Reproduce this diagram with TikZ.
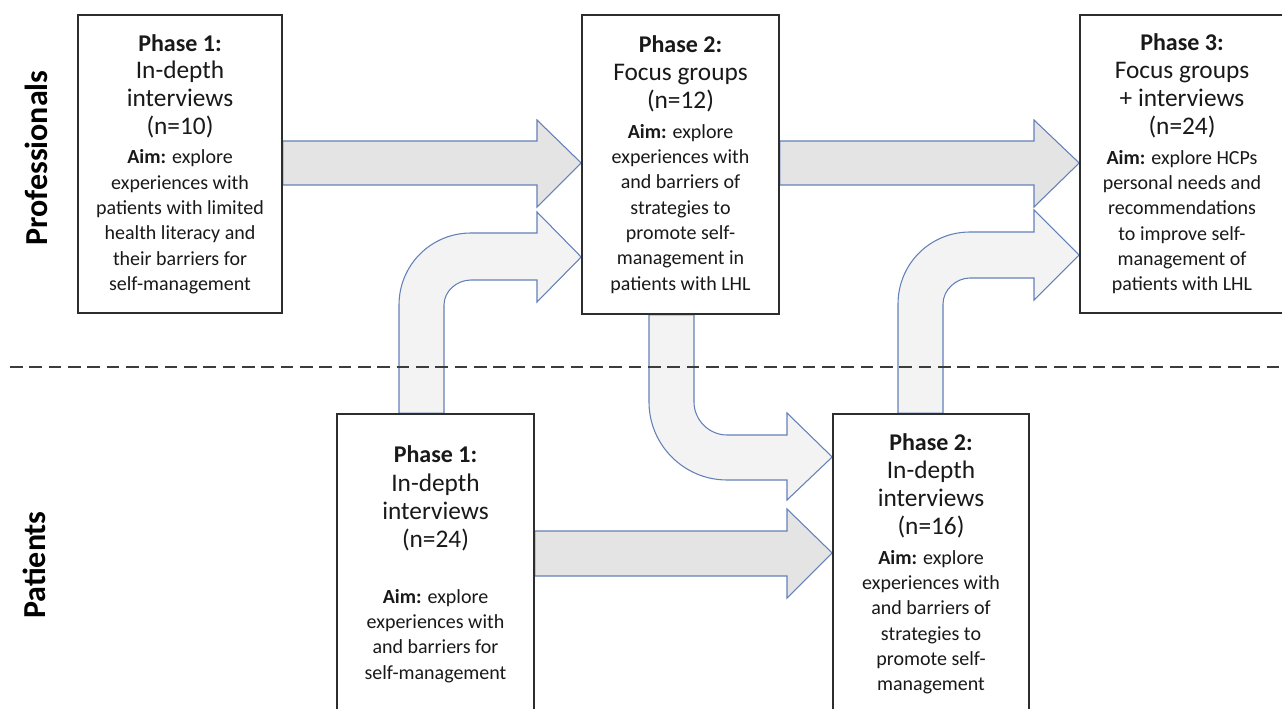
\documentclass[tikz,border=0pt]{standalone}
\usepackage{fontspec}
\setmainfont{Carlito}
\usetikzlibrary{backgrounds}
\definecolor{arrowline}{RGB}{100,128,185}
\definecolor{arrowfill}{RGB}{228,228,228}
\definecolor{bendfill}{RGB}{243,243,243}
\definecolor{boxline}{RGB}{45,45,45}
\definecolor{boxtext}{RGB}{25,25,25}
\definecolor{dashgray}{RGB}{60,60,60}
\newcommand{\phasehead}[1]{{\fontsize{18}{21}\selectfont\bfseries #1}}
\newcommand{\bigline}[1]{{\fontsize{19}{22}\selectfont #1}}
\newcommand{\aimword}{\textbf{Aim:}}

\begin{document}
\begin{tikzpicture}[x=0.75pt, y=-0.75pt,
  phasebox/.style={draw=boxline, line width=1.2pt, fill=white, text=boxtext,
    align=center, inner sep=0pt, font=\fontsize{15}{19}\selectfont},
  blockarrow/.style={draw=arrowline, line width=0.8pt, line join=miter},
  sidelabel/.style={rotate=90, text=black, font=\fontsize{24}{28}\selectfont\bfseries}]
\useasboundingbox (0,0) rectangle (1282,709);

% professionals
\node[phasebox, minimum width=153pt, minimum height=223.5pt] (p1) at (180,164) {%
  \phasehead{Phase 1:}\\[1.5pt]
  \bigline{In-depth}\\[2pt]
  \bigline{interviews}\\[2pt]
  \bigline{(n=10)}\\[3pt]
  \aimword{} explore\\
  experiences with\\
  patients with limited\\
  health literacy and\\
  their barriers for\\
  self-management};
\node[phasebox, minimum width=147.75pt, minimum height=224.25pt] (p2) at (680.5,164.5) {%
  \phasehead{Phase 2:}\\[2.5pt]
  \bigline{Focus groups}\\[2pt]
  \bigline{(n=12)}\\[3pt]
  \aimword{} explore\\
  experiences with\\
  and barriers of\\
  strategies to\\
  promote self-\\
  management in\\
  patients with LHL};
\node[phasebox, minimum width=153pt, minimum height=223.5pt] (p3) at (1182,164) {%
  \phasehead{Phase 3:}\\[2pt]
  \bigline{Focus groups}\\[2pt]
  \bigline{+ interviews}\\[2pt]
  \bigline{(n=24)}\\[3pt]
  \aimword{} explore HCPs\\
  personal needs and\\
  recommendations\\
  to improve self-\\
  management of\\
  patients with LHL};

% patients
\node[phasebox, minimum width=147.75pt, minimum height=225pt] (pa1) at (435.5,564) {%
  \phasehead{Phase 1:}\\[2.5pt]
  \bigline{In-depth}\\[2pt]
  \bigline{interviews}\\[2pt]
  \bigline{(n=24)}\\[23pt]
  \aimword{} explore\\
  experiences with\\
  and barriers for\\
  self-management};
\node[phasebox, minimum width=147pt, minimum height=225pt] (pa2) at (931,564) {%
  \phasehead{Phase 2:}\\[2pt]
  \bigline{In-depth}\\[2pt]
  \bigline{interviews}\\[2pt]
  \bigline{(n=16)}\\[3pt]
  \aimword{} explore\\
  experiences with\\
  and barriers of\\
  strategies to\\
  promote self-\\
  management};

\node[sidelabel] (profs) at (36,158) {Professionals};
\node[sidelabel] (pats) at (34,565) {Patients};

\begin{scope}[on background layer]
  % straight arrows
  \draw[blockarrow, fill=arrowfill] (p1.east |- 0,141) -- (537,141) -- (537,120)
    -- (p2.west |- 0,163) -- (537,207) -- (537,185) -- (p1.east |- 0,185) -- cycle;
  \draw[blockarrow, fill=arrowfill] (p2.east |- 0,141) -- (1034,141) -- (1034,120)
    -- (p3.west |- 0,163) -- (1034,207) -- (1034,185) -- (p2.east |- 0,185) -- cycle;
  \draw[blockarrow, fill=arrowfill] (pa1.east |- 0,531) -- (787,531) -- (787,509)
    -- (pa2.west |- 0,553) -- (787,598) -- (787,576) -- (pa1.east |- 0,576) -- cycle;
  % bent arrows
  \draw[blockarrow, fill=bendfill] (pa1.north -| 399,0) -- (399,305)
    .. controls (399,265) and (431,233) .. (471,233) -- (537,233) -- (537,212)
    -- (p2.west |- 0,257) -- (537,302) -- (537,280) -- (471,280)
    .. controls (457,280) and (444,291) .. (444,305) -- (pa1.north -| 444,0) -- cycle;
  \draw[blockarrow, fill=bendfill] (pa2.north -| 898,0) -- (898,304)
    .. controls (898,264) and (930,232) .. (970,232) -- (1034,232) -- (1034,210)
    -- (p3.west |- 0,255) -- (1034,300) -- (1034,278) -- (970,278)
    .. controls (956,278) and (943,290) .. (943,304) -- (pa2.north -| 943,0) -- cycle;
  \draw[blockarrow, fill=bendfill] (p2.south -| 649,0) -- (649,402)
    .. controls (649,445) and (684,480) .. (727,480) -- (787,480) -- (787,500)
    -- (pa2.west |- 0,457) -- (787,413) -- (787,435) -- (727,435)
    .. controls (709,435) and (694,420) .. (694,402) -- (p2.south -| 694,0) -- cycle;
  % divider
  \draw[dashgray, line width=1.2pt, dash pattern=on 9.5pt off 5pt] (10,367) -- (1282,367);
\end{scope}
\end{tikzpicture}
\end{document}
